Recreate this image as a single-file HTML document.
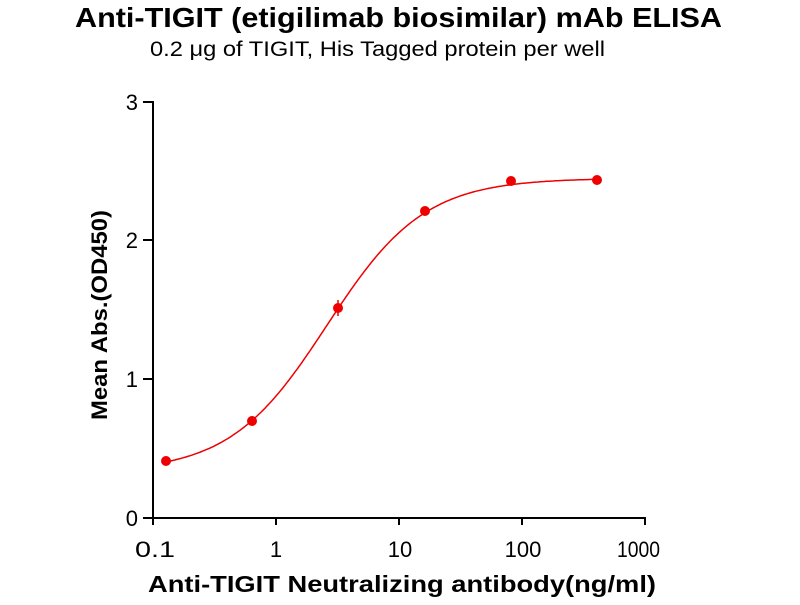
<!DOCTYPE html><html><head><style>body{margin:0;background:#fff}</style></head><body>
<svg width="800" height="600" xmlns="http://www.w3.org/2000/svg" font-family="Liberation Sans, Arial, sans-serif">
<text x="75" y="27" font-size="28" font-weight="bold" textLength="647" lengthAdjust="spacingAndGlyphs">Anti-TIGIT (etigilimab biosimilar) mAb ELISA</text>
<text x="150" y="56" font-size="21" textLength="455" lengthAdjust="spacingAndGlyphs">0.2 μg of TIGIT, His Tagged protein per well</text>
<g stroke="#000" stroke-width="2" fill="none">
<path d="M153,101V518H646"/>
<path d="M143,102H153M143,240H153M143,379H153M143,518H153"/>
<path d="M153,518v7M276,518v7M399,518v7M522,518v7M645,518v7"/>
</g>
<g font-size="22" text-anchor="end">
<text x="138" y="110">3</text><text x="138" y="248">2</text><text x="138" y="387">1</text><text x="138" y="526">0</text>
</g>
<g font-size="22">
<text x="135" y="557" textLength="40" lengthAdjust="spacingAndGlyphs">0.1</text>
<text x="276" y="557" text-anchor="middle">1</text>
<text x="400" y="557" text-anchor="middle">10</text>
<text x="523" y="557" text-anchor="middle">100</text>
<text x="617" y="557" textLength="43" lengthAdjust="spacingAndGlyphs">1000</text>
</g>
<text x="148" y="592" font-size="23" font-weight="bold" textLength="508" lengthAdjust="spacingAndGlyphs">Anti-TIGIT Neutralizing antibody(ng/ml)</text>
<text transform="translate(107,420) rotate(-90)" font-size="22" font-weight="bold" textLength="210" lengthAdjust="spacingAndGlyphs">Mean Abs.(OD450)</text>
<path id="c" fill="none" stroke="#e00" stroke-width="1.5"/>
<path d="M338,300V316" stroke="#e00" stroke-width="1.5"/>
<g fill="#e00">
<circle cx="166" cy="461" r="5"/><circle cx="252" cy="421" r="5"/><circle cx="338" cy="308" r="5"/>
<circle cx="425" cy="211" r="5"/><circle cx="511" cy="181" r="5"/><circle cx="597" cy="180" r="5"/>
</g>
</svg>
<script>
var d="";for(var i=0;i<=200;i++){var lx=Math.log10(0.128)+i/200*(Math.log10(400)-Math.log10(0.128));
var y=0.33+(2.45-0.33)/(1+Math.pow(10,(Math.log10(2.6)-lx)*1.1));
var px=153+(lx+1)*123,py=518-y*138.7;d+=(i?"L":"M")+px.toFixed(1)+","+py.toFixed(1);}
document.getElementById("c").setAttribute("d",d);
</script>
</body></html>
